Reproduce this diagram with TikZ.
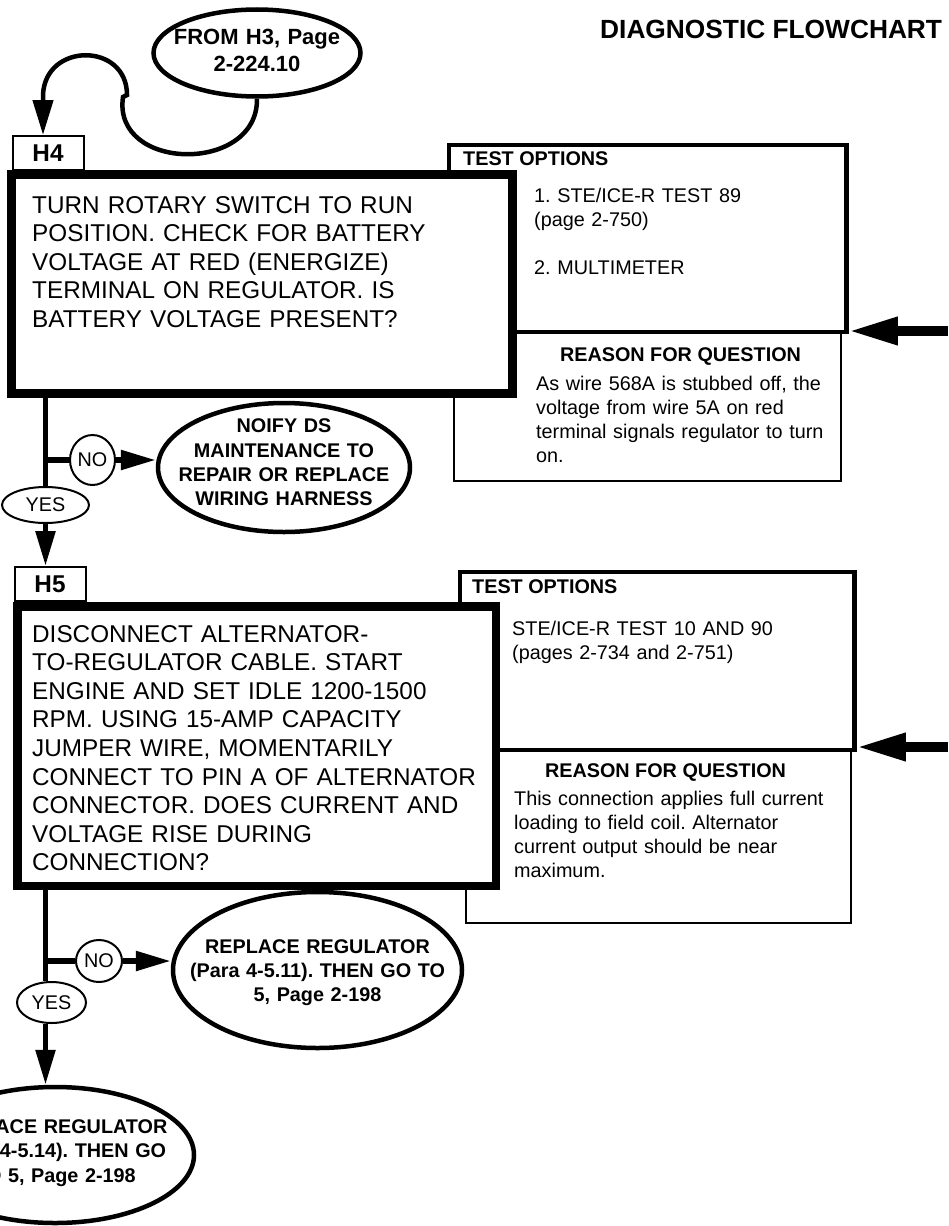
\documentclass[tikz,border=0pt]{standalone}
\usepackage{fontspec}
\setmainfont{Liberation Sans}
\usetikzlibrary{arrows.meta,shapes.geometric,calc}
\frenchspacing
\newcommand\bigtxt{\fontsize{24.3}{28.6}\selectfont}
\newcommand\smtxt{\fontsize{19.8}{24.3}\selectfont}
\newcommand\fromtxt{\fontsize{22}{27}\selectfont}
\begin{document}
\frenchspacing
\begin{tikzpicture}[x=1pt,y=-1pt,
  thickbox/.style={draw,rectangle,line width=9pt,fill=white,inner sep=0pt},
  obox/.style={draw,rectangle,line width=4.5pt,inner sep=0pt},
  rbox/.style={draw,rectangle,line width=2pt,inner sep=0pt},
  lbox/.style={draw,rectangle,line width=2pt,fill=white,inner sep=0pt,
    minimum width=71pt,minimum height=34pt,font=\bfseries\bigtxt},
  bigtext/.style={anchor=base west,inner sep=0pt,align=left,text width=470pt,font=\bigtxt},
  smtext/.style={anchor=base west,inner sep=0pt,align=left,text width=330pt,font=\smtxt},
  smhead/.style={anchor=base west,inner sep=0pt,font=\bfseries\smtxt},
  oval/.style={draw,ellipse,line width=4.5pt,fill=white,inner sep=0pt},
  ovaltext/.style={inner sep=0pt,align=center,text width=290pt,font=\bfseries\smtxt},
  yn/.style={draw,ellipse,line width=2pt,fill=white,inner sep=0pt,font=\smtxt},
  flow/.style={line width=5.5pt},
  flowarr/.style={line width=5.5pt,-{Triangle[length=35pt,width=19pt]}},
  curvearr/.style={line width=4.5pt,-{Triangle[length=35pt,width=20pt]}},
  rarr/.style={line width=9.5pt,-{Triangle[length=49pt,width=26pt]}}]
\fill[white] (0,0) rectangle (948,1226);
\useasboundingbox (0,0) rectangle (948,1226);

\node[anchor=base west,inner sep=0pt,font=\bfseries\fontsize{26.3}{30}\selectfont] (title) at (600,38) {DIAGNOSTIC FLOWCHART};

% ---------- H4 ----------
\node[oval,minimum width=207pt,minimum height=87pt] (from) at (257,53) {};
\node[ovaltext,font=\bfseries\fromtxt] (fromtext) at ([yshift=2.4pt]from.center) {FROM H3, Page\\2-224.10};

\node[rbox,minimum width=387.5pt,minimum height=148.5pt] (rsn1) at (647.25,406.25) {};
\node[obox,minimum width=397.5pt,minimum height=187pt] (opt1) at (647.75,238.5) {};
\node[lbox] (h4lab) at (48,153) {H4};
\node[thickbox,minimum width=501pt,minimum height=219pt] (h4) at (262,284) {};
\node[bigtext] (h4text) at (32,213) {TURN ROTARY SWITCH TO RUN\\POSITION. CHECK FOR BATTERY\\VOLTAGE AT RED (ENERGIZE)\\TERMINAL ON REGULATOR. IS\\BATTERY VOLTAGE PRESENT?};

\node[smhead] (opt1head) at (463,165) {TEST OPTIONS};
\node[smtext] (opt1text) at (534,202) {1. STE/ICE-R TEST 89\\(page 2-750)\\[24.3pt]2. MULTIMETER};
\node[smhead,anchor=base] (rsn1head) at (680.5,361) {REASON FOR QUESTION};
\node[smtext] (rsn1text) at (536,390) {As wire 568A is stubbed off, the\\voltage from wire 5A on red\\terminal signals regulator to turn\\on.};

\coordinate (e1) at (948,331);
\draw[rarr] (e1) -- (opt1.east |- e1);

\coordinate (j1) at (123,97);
\coordinate (j2) at (127,95);
\coordinate (j3) at (43,95);
\draw[curvearr] (from.south) .. controls (258,174) and (112,172) .. (j1) -- (j2)
  .. controls (127,42) and (45,42) .. (j3) -- (j3 |- h4lab.north);

\coordinate (spine) at (45.5,0);
\node[yn,minimum width=87pt,minimum height=36pt] (yes1) at (45.5,505) {YES};
\node[yn,minimum width=45pt,minimum height=50pt] (no1) at (92.5,460) {NO};
\node[oval,minimum width=252pt,minimum height=129pt] (noify) at (284,467.5) {};
\node[ovaltext] (noifytext) at ([yshift=5pt]noify.center) {NOIFY DS\\MAINTENANCE TO\\REPAIR OR REPLACE\\WIRING HARNESS};

\draw[flow] (h4.south -| spine) -- (yes1.north);
\draw[flow] (no1.west -| spine) -- (no1.west);
\draw[flowarr] (no1.east) -- (no1.east -| noify.west);

% ---------- H5 ----------
\node[lbox] (h5lab) at (50,584) {H5};
\draw[flowarr] (yes1.south) -- (yes1.south |- h5lab.north);

\node[rbox,minimum width=385pt,minimum height=173pt] (rsn2) at (658,836.5) {};
\node[obox,minimum width=394.5pt,minimum height=178pt] (opt2) at (657.25,661) {};
\node[thickbox,line width=8.5pt,minimum width=478.5pt,minimum height=279.5pt] (h5) at (256.5,746) {};
\node[bigtext] (h5text) at (32,642) {DISCONNECT ALTERNATOR-\\TO-REGULATOR CABLE. START\\ENGINE AND SET IDLE 1200-1500\\RPM. USING 15-AMP CAPACITY\\JUMPER WIRE, MOMENTARILY\\CONNECT TO PIN A OF ALTERNATOR\\CONNECTOR. DOES CURRENT AND\\VOLTAGE RISE DURING\\CONNECTION?};

\node[smhead] (opt2head) at (472,593) {TEST OPTIONS};
\node[smtext] (opt2text) at (512,635) {STE/ICE-R TEST 10 AND 90\\(pages 2-734 and 2-751)};
\node[smhead,anchor=base] (rsn2head) at (665.5,777) {REASON FOR QUESTION};
\node[smtext] (rsn2text) at (514,805) {This connection applies full current\\loading to field coil. Alternator\\current output should be near\\maximum.};

\coordinate (e2) at (948,747);
\draw[rarr] (e2) -- (opt2.east |- e2);

\node[yn,minimum width=69pt,minimum height=41pt] (yes2) at (51.5,1002.5) {YES};
\node[yn,minimum width=46pt,minimum height=42pt] (no2) at (99,961) {NO};
\node[oval,minimum width=289pt,minimum height=156pt] (rep1) at (317.5,970) {};
\node[ovaltext] (rep1text) at ([yshift=-2.6pt]rep1.center) {REPLACE REGULATOR\\(Para 4-5.11). THEN GO TO\\5, Page 2-198};
\node[oval,minimum width=278pt,minimum height=136pt] (rep2) at (55,1155) {};
\node[ovaltext] (rep2text) at ([yshift=2pt]rep2.center) {REPLACE REGULATOR\\(Para 4-5.14). THEN GO\\TO 5, Page 2-198};

\draw[flow] (h5.south -| spine) -- (yes2.north -| spine);
\draw[flow] (no2.west -| spine) -- (no2.west);
\draw[flowarr] (no2.east) -- (no2.east -| rep1.west);
\draw[flowarr] (yes2.south -| spine) -- (rep2.north -| spine);
\end{tikzpicture}
\end{document}
